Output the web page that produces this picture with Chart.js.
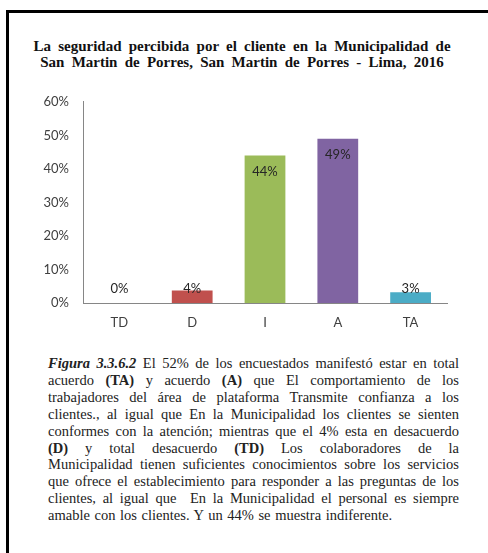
<!DOCTYPE html>
<html>
<head>
<meta charset="utf-8">
<script src="https://cdn.jsdelivr.net/npm/chart.js@4"></script>
<style>
  body { margin: 0; background: #fff; width: 488px; height: 553px; overflow: hidden; position: relative; }
  #frame { position: absolute; left: 6px; top: 10px; right: -5px; bottom: -5px; border-left: 3px solid #000; border-top: 3px solid #000; }
  #title { position: absolute; left: 12px; top: 37.5px; width: 460px; text-align: center;
           font: bold 15px "Liberation Serif", serif; line-height: 16px; color: #111; word-spacing: 3.5px; }
  #wrap { position: absolute; left: 20px; top: 80px; width: 450px; height: 260px; }
  #caption { position: absolute; left: 48px; top: 355px; width: 411px;
             font: 14.5px "Liberation Serif", serif; line-height: 16.9px; color: #222; }
  #caption div { text-align: justify; text-align-last: justify; }
  #caption div.last { text-align-last: left; word-spacing: 1px; }
</style>
</head>
<body>
<div id="frame"></div>
<div id="title">La seguridad percibida por el cliente en la Municipalidad de<br>San Martin de Porres, San Martin de Porres - Lima, 2016</div>
<div id="wrap"><canvas id="bar-chart" width="450" height="260"></canvas></div>
<div id="caption">
  <div><b><i>Figura 3.3.6.2</i></b> El 52% de los encuestados manifestó estar en total</div>
  <div>acuerdo <b>(TA)</b> y acuerdo <b>(A)</b> que El comportamiento de los</div>
  <div>trabajadores del área de plataforma Transmite confianza a los</div>
  <div>clientes., al igual que En la Municipalidad los clientes se sienten</div>
  <div>conformes con la atención; mientras que el 4% esta en desacuerdo</div>
  <div><b>(D)</b> y total desacuerdo <b>(TD)</b> Los colaboradores de la</div>
  <div>Municipalidad tienen suficientes conocimientos sobre los servicios</div>
  <div>que ofrece el establecimiento para responder a las preguntas de los</div>
  <div>clientes, al igual que &nbsp;En la Municipalidad el personal es siempre</div>
  <div class="last">amable con los clientes. Y un 44% se muestra indiferente.</div>
</div>
<script>
// data
var categories = ["TD", "D", "I", "A", "TA"];
var values = [0, 0.037, 0.44, 0.49, 0.032];
var barColors = ["#4F81BD", "#C0504D", "#9BBB59", "#8064A2", "#4BACC6"];
var yTicks = [0, 0.1, 0.2, 0.3, 0.4, 0.5, 0.6];

// percent labels, Excel style: inside the top of big bars, above small ones
var valueLabels = {
  id: "valueLabels",
  afterDatasetsDraw: function(chart) {
    var ctx = chart.ctx;
    var meta = chart.getDatasetMeta(0);
    var base = chart.scales.y.getPixelForValue(0);
    ctx.save();
    ctx.font = "13px Lato, 'Open Sans', sans-serif";
    ctx.fillStyle = "#262626";
    ctx.textAlign = "center";
    ctx.textBaseline = "middle";
    for (var i = 0; i < meta.data.length; i++) {
      var bar = meta.data[i];
      var y = Math.min(bar.y + 16, base - 14);
      ctx.fillText(Math.round(values[i] * 100) + "%", bar.x, y);
    }
    ctx.restore();
  }
};

new Chart(document.getElementById("bar-chart"), {
  type: "bar",
  data: {
    labels: categories,
    datasets: [{
      data: values,
      backgroundColor: barColors,
      borderWidth: 0,
      barPercentage: 0.56,
      categoryPercentage: 1
    }]
  },
  options: {
    responsive: false,
    animation: false,
    layout: { padding: { top: 16, right: 23, left: 0, bottom: 0 } },
    plugins: { legend: { display: false }, tooltip: { enabled: false } },
    scales: {
      x: {
        grid: { display: false, drawTicks: false },
        border: { color: "#868686", width: 1 },
        ticks: { color: "#404040", font: { family: "Lato, 'Open Sans', sans-serif", size: 13 }, padding: 12 },
        afterFit: function(scale) { scale.height = 37; }
      },
      y: {
        min: 0,
        max: 0.6,
        grid: { display: false, drawTicks: false },
        border: { color: "#868686", width: 1 },
        afterBuildTicks: function(scale) { scale.ticks = yTicks.map(function(v) { return { value: v }; }); },
        ticks: {
          color: "#404040",
          font: { family: "Lato, 'Open Sans', sans-serif", size: 13 },
          padding: 14,
          callback: function(v) { return Math.round(v * 100) + "%"; }
        },
        afterFit: function(scale) { scale.width = 63; }
      }
    }
  },
  plugins: [valueLabels]
});
</script>
</body>
</html>
